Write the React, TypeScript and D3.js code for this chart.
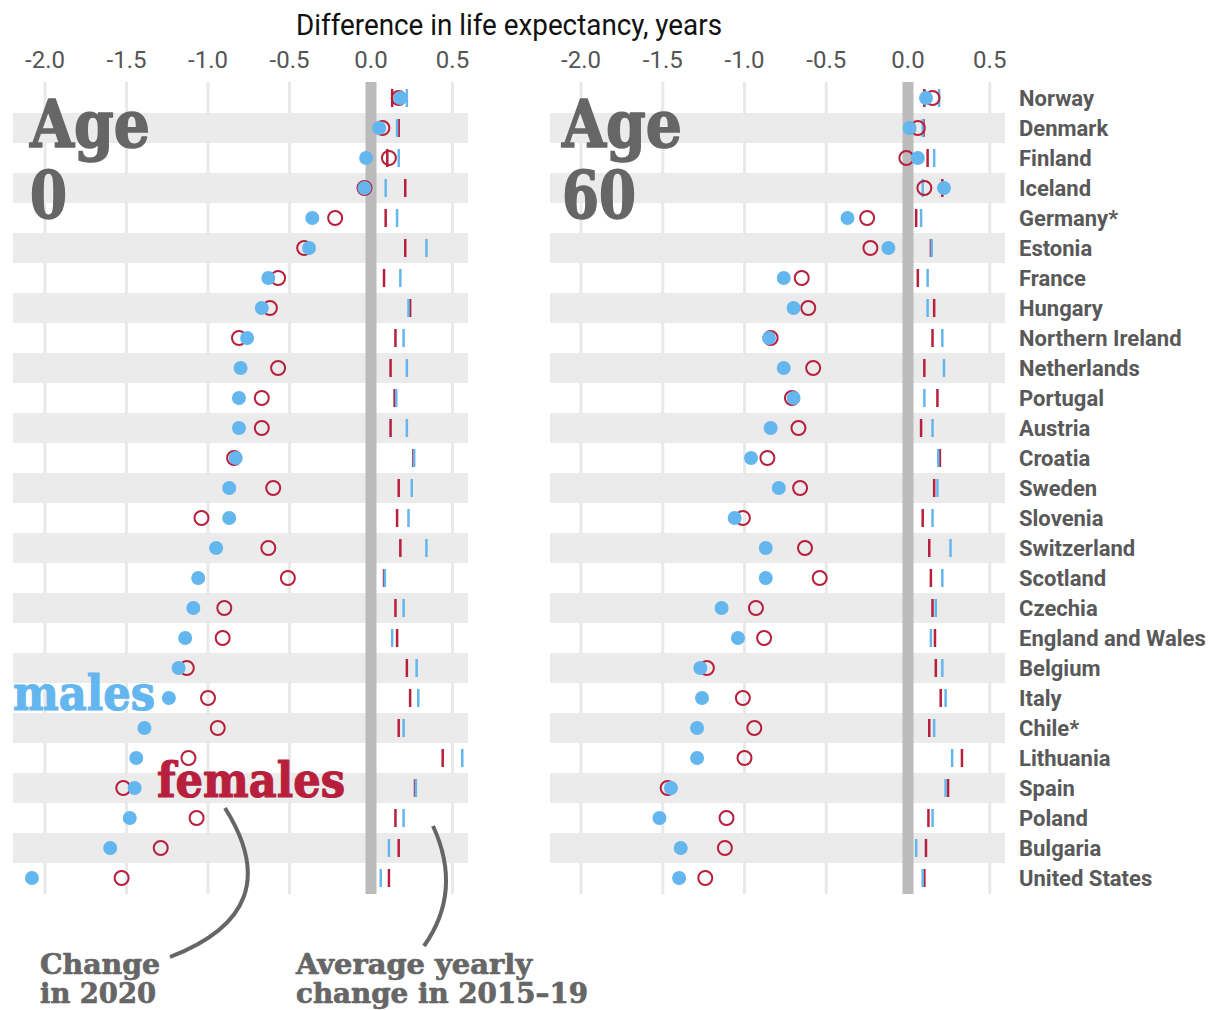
import React from "react";
import * as d3 from "d3";

const countries = [
  "Norway", "Denmark", "Finland", "Iceland", "Germany*", "Estonia", "France", "Hungary",
  "Northern Ireland", "Netherlands", "Portugal", "Austria", "Croatia", "Sweden", "Slovenia",
  "Switzerland", "Scotland", "Czechia", "England and Wales", "Belgium", "Italy", "Chile*",
  "Lithuania", "Spain", "Poland", "Bulgaria", "United States",
];

const axisTicks = [-2.0, -1.5, -1.0, -0.5, 0.0, 0.5];

// Age 0
const age0Males2020 = [0.18, 0.05, -0.03, -0.04, -0.36, -0.38, -0.63, -0.67, -0.76, -0.80, -0.81, -0.81, -0.83, -0.87, -0.87, -0.95, -1.06, -1.09, -1.14, -1.18, -1.24, -1.39, -1.44, -1.45, -1.48, -1.60, -2.08];
const age0Females2020 = [0.17, 0.07, 0.11, -0.04, -0.22, -0.41, -0.57, -0.62, -0.81, -0.57, -0.67, -0.67, -0.84, -0.60, -1.04, -0.63, -0.51, -0.90, -0.91, -1.13, -1.00, -0.94, -1.12, -1.52, -1.07, -1.29, -1.53];
const age0MalesAvg = [0.22, 0.16, 0.17, 0.09, 0.16, 0.34, 0.18, 0.23, 0.20, 0.22, 0.155, 0.22, 0.265, 0.25, 0.23, 0.34, 0.085, 0.20, 0.13, 0.28, 0.29, 0.20, 0.56, 0.275, 0.20, 0.11, 0.06];
const age0FemalesAvg = [0.13, 0.17, 0.10, 0.21, 0.09, 0.21, 0.08, 0.24, 0.15, 0.12, 0.145, 0.12, 0.26, 0.17, 0.16, 0.18, 0.08, 0.15, 0.16, 0.22, 0.24, 0.17, 0.44, 0.27, 0.15, 0.17, 0.11];

// Age 60
const age60Males2020 = [0.11, 0.01, 0.06, 0.22, -0.37, -0.12, -0.76, -0.70, -0.85, -0.76, -0.70, -0.84, -0.96, -0.79, -1.06, -0.87, -0.87, -1.14, -1.04, -1.27, -1.26, -1.29, -1.29, -1.45, -1.52, -1.39, -1.40];
const age60Females2020 = [0.15, 0.06, -0.01, 0.10, -0.25, -0.23, -0.65, -0.61, -0.84, -0.58, -0.71, -0.67, -0.86, -0.66, -1.01, -0.63, -0.54, -0.93, -0.88, -1.23, -1.01, -0.94, -1.00, -1.47, -1.11, -1.12, -1.24];
const age60MalesAvg = [0.19, 0.09, 0.16, 0.09, 0.08, 0.145, 0.12, 0.12, 0.21, 0.22, 0.10, 0.15, 0.185, 0.18, 0.15, 0.26, 0.21, 0.17, 0.14, 0.21, 0.23, 0.16, 0.27, 0.23, 0.15, 0.05, 0.09];
const age60FemalesAvg = [0.10, 0.095, 0.12, 0.21, 0.05, 0.14, 0.06, 0.16, 0.15, 0.10, 0.18, 0.08, 0.195, 0.16, 0.09, 0.13, 0.14, 0.15, 0.165, 0.17, 0.20, 0.13, 0.33, 0.245, 0.125, 0.11, 0.10];

const BLUE = "#64b6ee";
const RED = "#b71f3c";
const GREY_TEXT = "#666666";
const SLAB = "'DejaVu Serif', serif";
const SANS = "Roboto, 'Noto Sans', sans-serif";

const W = 1211;
const H = 1010;

const y = d3.scaleBand<string>().domain(countries).range([83, 893]).padding(0);

type SlabProps = { x: number; y: number; size: number; len: number; fill: string; children: string };

function Slab({ x, y: yy, size, len, fill, children }: SlabProps) {
  return (
    <text x={x} y={yy} fontFamily={SLAB} fontWeight="bold" fontSize={size} fill={fill}
      stroke={fill} strokeWidth={size / 40} strokeLinejoin="round"
      textLength={len} lengthAdjust="spacingAndGlyphs">{children}</text>
  );
}

type PanelProps = {
  range: [number, number];
  band: [number, number];
  males: number[];
  females: number[];
  malesAvg: number[];
  femalesAvg: number[];
  label: string;
  labelX: number;
};

function Panel({ range, band, males, females, malesAvg, femalesAvg, label, labelX }: PanelProps) {
  const x = d3.scaleLinear().domain([-2, 0.5]).range(range);
  const bw = y.bandwidth();
  const cy = (c: string) => (y(c) as number) + bw / 2;
  return (
    <g>
      {axisTicks.filter((t) => t !== 0).map((t) => (
        <line key={"g" + t} x1={x(t)} x2={x(t)} y1={82} y2={894} stroke="#e9e9e9" strokeWidth={3} />
      ))}
      {countries.map((c, i) =>
        i % 2 === 1 ? (
          <rect key={"b" + c} x={band[0]} width={band[1] - band[0]} y={y(c)} height={bw} fill="#ebebeb" />
        ) : null
      )}
      <rect x={x(0) - 5.5} width={11} y={82} height={812} fill="#bbbbbb" />
      {axisTicks.map((t) => (
        <text key={"t" + t} x={x(t)} y={68} textAnchor="middle" fontFamily={SANS} fontSize={24} fill="#555">
          {t.toFixed(1)}
        </text>
      ))}
      <Slab x={labelX} y={147} size={66} len={120} fill={GREY_TEXT}>Age</Slab>
      <Slab x={labelX} y={218} size={66} len={label.length * 37} fill={GREY_TEXT}>{label}</Slab>
      {countries.map((c, i) => (
        <line key={"fa" + c} x1={x(femalesAvg[i])} x2={x(femalesAvg[i])} y1={cy(c) - 9} y2={cy(c) + 9}
          stroke={RED} strokeWidth={2.5} />
      ))}
      {countries.map((c, i) => (
        <line key={"ma" + c} x1={x(malesAvg[i])} x2={x(malesAvg[i])} y1={cy(c) - 9} y2={cy(c) + 9}
          stroke={BLUE} strokeWidth={2.5} />
      ))}
      {countries.map((c, i) => (
        <circle key={"f" + c} cx={x(females[i])} cy={cy(c)} r={7} fill="none" stroke={RED} strokeWidth={2} />
      ))}
      {countries.map((c, i) => (
        <circle key={"m" + c} cx={x(males[i])} cy={cy(c)} r={7} fill={BLUE} />
      ))}
    </g>
  );
}

export default function App() {
  const bw = y.bandwidth();
  return (
    <svg width={W} height={H} style={{ position: "absolute", left: 0, top: 0, background: "#fff" }}>
      <rect x={0} y={0} width={W} height={H} fill="#fff" />
      <text x={509} y={35} textAnchor="middle" fontFamily={SANS} fontSize={29} fill="#111"
        textLength={426} lengthAdjust="spacingAndGlyphs">Difference in life expectancy, years</text>
      <Panel range={[45, 452.5]} band={[13, 468]} males={age0Males2020} females={age0Females2020}
        malesAvg={age0MalesAvg} femalesAvg={age0FemalesAvg} label="0" labelX={30} />
      <Panel range={[581, 989.75]} band={[550, 1005]} males={age60Males2020} females={age60Females2020}
        malesAvg={age60MalesAvg} femalesAvg={age60FemalesAvg} label="60" labelX={562} />
      {countries.map((c) => (
        <text key={"l" + c} x={1019} y={(y(c) as number) + bw / 2 + 8} fontFamily={SANS} fontWeight="bold"
          fontSize={22} fill="#595959">{c}</text>
      ))}
      <Slab x={13} y={710} size={48} len={142} fill={BLUE}>males</Slab>
      <Slab x={157} y={797} size={48} len={188} fill={RED}>females</Slab>
      <path d="M225,808 Q290,911 170,957" fill="none" stroke="#666" strokeWidth={4} />
      <path d="M433,826 Q463,891 424,946" fill="none" stroke="#666" strokeWidth={4} />
      <Slab x={40} y={974} size={28} len={120} fill={GREY_TEXT}>Change</Slab>
      <Slab x={40} y={1003} size={28} len={116} fill={GREY_TEXT}>in 2020</Slab>
      <Slab x={296} y={974} size={28} len={236} fill={GREY_TEXT}>Average yearly</Slab>
      <Slab x={296} y={1003} size={28} len={292} fill={GREY_TEXT}>change in 2015–19</Slab>
    </svg>
  );
}
